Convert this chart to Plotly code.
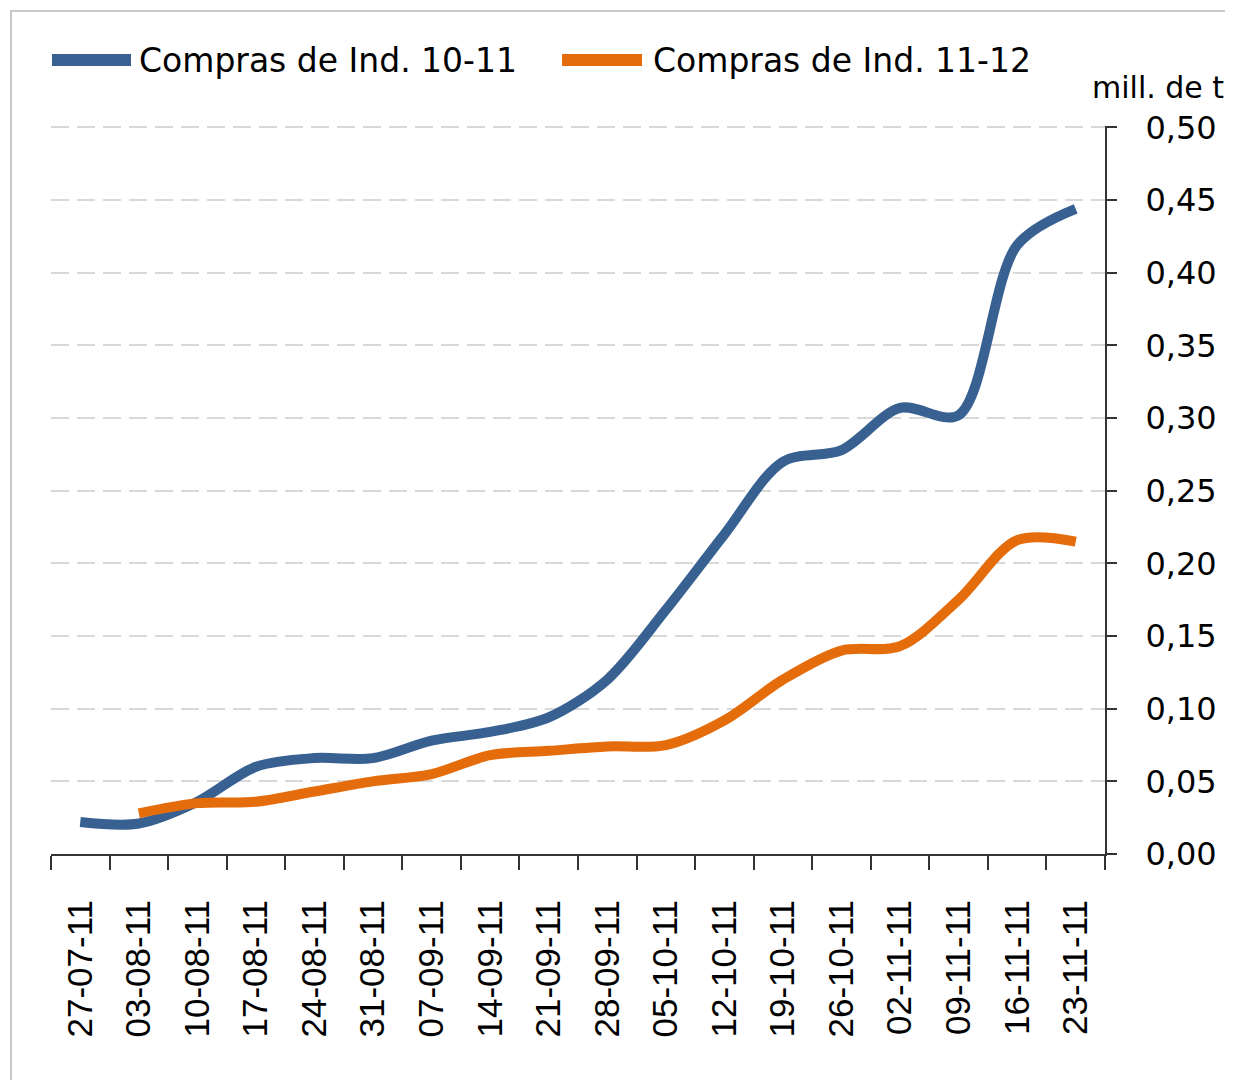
import plotly.graph_objects as go

fechas = ["27-07-11", "03-08-11", "10-08-11", "17-08-11", "24-08-11", "31-08-11",
          "07-09-11", "14-09-11", "21-09-11", "28-09-11", "05-10-11", "12-10-11",
          "19-10-11", "26-10-11", "02-11-11", "09-11-11", "16-11-11", "23-11-11"]

compras_10_11 = [0.022, 0.021, 0.036, 0.060, 0.066, 0.066, 0.078, 0.084, 0.094, 0.120,
                 0.168, 0.220, 0.270, 0.278, 0.307, 0.302, 0.419, 0.444]

compras_11_12 = [None, 0.028, 0.035, 0.036, 0.043, 0.050, 0.055, 0.068, 0.071, 0.074,
                 0.075, 0.092, 0.120, 0.140, 0.143, 0.175, 0.216, 0.215]

y_ticks = [0.0, 0.05, 0.10, 0.15, 0.20, 0.25, 0.30, 0.35, 0.40, 0.45, 0.50]
y_tick_labels = ["0,00", "0,05", "0,10", "0,15", "0,20", "0,25", "0,30", "0,35", "0,40", "0,45", "0,50"]

AZUL = "#386192"
NARANJA = "#E46C0A"

fig = go.Figure()
fig.add_trace(go.Scatter(x=fechas, y=compras_10_11, mode="lines", name="Compras de Ind. 10-11",
                         line=dict(color=AZUL, width=10, shape="spline", smoothing=0.9),
                         showlegend=False))
fig.add_trace(go.Scatter(x=fechas, y=compras_11_12, mode="lines", name="Compras de Ind. 11-12",
                         line=dict(color=NARANJA, width=10, shape="spline", smoothing=0.9),
                         showlegend=False))

OFF = 8  # page body margin
W, H = 1225, 1072
L, T = 51 - OFF, 126 - OFF
R = W - (1105 - OFF)
B = H - (854 - OFF)
pw, ph = W - L - R, H - T - B

def px(x):
    return (x - OFF - L) / pw

def py(y):
    return (H - B - (y - OFF)) / ph

shapes = [
    dict(type="rect", xref="paper", yref="paper", x0=px(11), x1=px(1300), y0=py(1200), y1=py(11),
         line=dict(color="#c8c8c8", width=2), fillcolor="rgba(0,0,0,0)", layer="below"),
    dict(type="line", xref="paper", yref="paper", x0=px(52), x1=px(131), y0=py(60), y1=py(60),
         line=dict(color=AZUL, width=12)),
    dict(type="line", xref="paper", yref="paper", x0=px(562), x1=px(642), y0=py(60), y1=py(60),
         line=dict(color=NARANJA, width=12)),
]

annotations = [
    dict(text="Compras de Ind. 10-11", xref="paper", yref="paper", x=px(137), y=py(60),
         xanchor="left", yanchor="middle", showarrow=False,
         font=dict(family="DejaVu Sans", size=33, color="#000000")),
    dict(text="Compras de Ind. 11-12", xref="paper", yref="paper", x=px(651), y=py(60),
         xanchor="left", yanchor="middle", showarrow=False,
         font=dict(family="DejaVu Sans", size=33, color="#000000")),
    dict(text="mill. de t", xref="paper", yref="paper", x=px(1226), y=py(88),
         xanchor="right", yanchor="middle", showarrow=False,
         font=dict(family="DejaVu Sans", size=30, color="#000000")),
]

fig.update_layout(
    width=W, height=H,
    margin=dict(l=L, r=R, t=T, b=B, autoexpand=False),
    paper_bgcolor="white", plot_bgcolor="white",
    shapes=shapes, annotations=annotations,
    xaxis=dict(type="category", tickangle=-90, tickson="boundaries",
               ticks="outside", ticklen=14, tickwidth=2, tickcolor="#333333",
               showline=True, linecolor="#333333", linewidth=2,
               showgrid=False, zeroline=False,
               tickfont=dict(family="Liberation Sans", size=35, color="#000000"),
               ticklabelstandoff=30, range=[-0.5, 17.5]),
    yaxis=dict(side="right", range=[0, 0.501], tickvals=y_ticks, ticktext=y_tick_labels,
               ticks="outside", ticklen=10, tickwidth=2, tickcolor="#333333",
               showline=True, linecolor="#333333", linewidth=2,
               showgrid=True, gridcolor="#d9d9d9", gridwidth=2, griddash="18px,8px",
               zeroline=False,
               tickfont=dict(family="DejaVu Sans", size=32, color="#000000"),
               ticklabelstandoff=22),
)

fig.write_html("out.html")
